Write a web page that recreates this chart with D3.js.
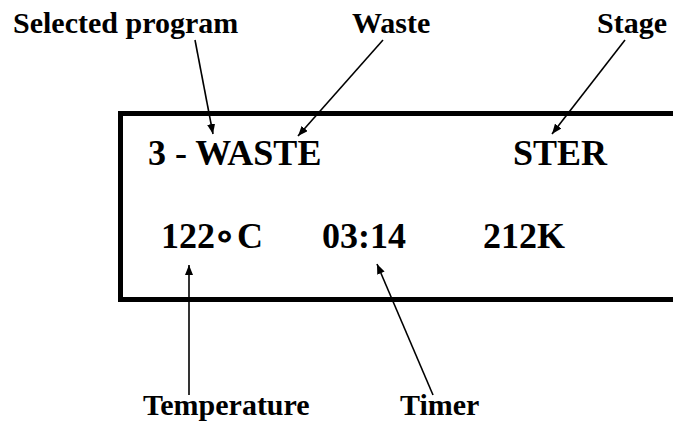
<!DOCTYPE html>
<html><head><meta charset="utf-8"><script src="https://cdn.jsdelivr.net/npm/d3@7"></script></head>
<body style="margin:0">
<svg id="chart" width="673" height="423" font-family="Liberation Serif" font-weight="bold"></svg>
<script>
// Display contents
const displayRow1 = ["3 - WASTE", "STER"];
const displayRow2Value = ["122", "03:14", "212K"];
const degreeUnit = ["\u2218", "C"];
// Callout labels
const topLabels = ["Selected program", "Waste", "Stage"];
const bottomLabels = ["Temperature", "Timer"];

const svg = d3.select("#chart");
svg.append("defs").append("marker")
  .attr("id", "ah").attr("viewBox", "0 0 10 8")
  .attr("refX", 10).attr("refY", 4)
  .attr("markerWidth", 10).attr("markerHeight", 8)
  .attr("markerUnits", "userSpaceOnUse")
  .attr("orient", "auto")
  .append("path").attr("d", "M0,0 L10,4 L0,8 Z").attr("fill", "#000");

// Box
svg.append("rect")
  .attr("x", 120.5).attr("y", 113.5)
  .attr("width", 700).attr("height", 186)
  .attr("fill", "none").attr("stroke", "#000").attr("stroke-width", 5);

const boxFont = 36, labelFont = 30;

// Row 1
const row1X = [148, 513];
svg.selectAll("text.r1").data(displayRow1).join("text")
  .attr("class", "r1")
  .attr("x", (d, i) => row1X[i]).attr("y", 165)
  .attr("font-family", "Liberation Serif").attr("font-weight", "bold").attr("font-size", boxFont)
  .text(d => d);

// Row 2
const row2X = [161, 322, 483];
const unitX = [213, 237];
svg.selectAll("text.r2").data(displayRow2Value).join("text")
  .attr("class", "r2")
  .attr("x", (d, i) => row2X[i]).attr("y", 248)
  .attr("font-family", "Liberation Serif").attr("font-weight", "bold").attr("font-size", boxFont)
  .each(function(d, i) {
    const t = d3.select(this);
    t.append("tspan").text(d);
    if (i === 0) {
      t.append("tspan").attr("x", unitX[0]).attr("font-size", 37).text(degreeUnit[0]);
      t.append("tspan").attr("x", unitX[1]).text(degreeUnit[1]);
    }
  });

// Top labels
const topX = [13, 352, 597];
svg.selectAll("text.tl").data(topLabels).join("text")
  .attr("class", "tl")
  .attr("x", (d, i) => topX[i]).attr("y", 33)
  .attr("font-family", "Liberation Serif").attr("font-weight", "bold").attr("font-size", labelFont)
  .text(d => d);

// Bottom labels
const botX = [143, 400];
svg.selectAll("text.bl").data(bottomLabels).join("text")
  .attr("class", "bl")
  .attr("x", (d, i) => botX[i]).attr("y", 415)
  .attr("font-family", "Liberation Serif").attr("font-weight", "bold").attr("font-size", labelFont)
  .text(d => d);

// Arrows: [x1,y1,x2,y2]
const arrows = [
  [195, 40, 213, 134],
  [383, 40, 298, 136],
  [625, 40, 552, 134],
  [189, 395, 189, 265],
  [433, 395, 377, 264]
];
svg.selectAll("line.arr").data(arrows).join("line")
  .attr("class", "arr")
  .attr("x1", d => d[0]).attr("y1", d => d[1])
  .attr("x2", d => d[2]).attr("y2", d => d[3])
  .attr("stroke", "#000").attr("stroke-width", 1.6)
  .attr("marker-end", "url(#ah)");
</script>
</body></html>
